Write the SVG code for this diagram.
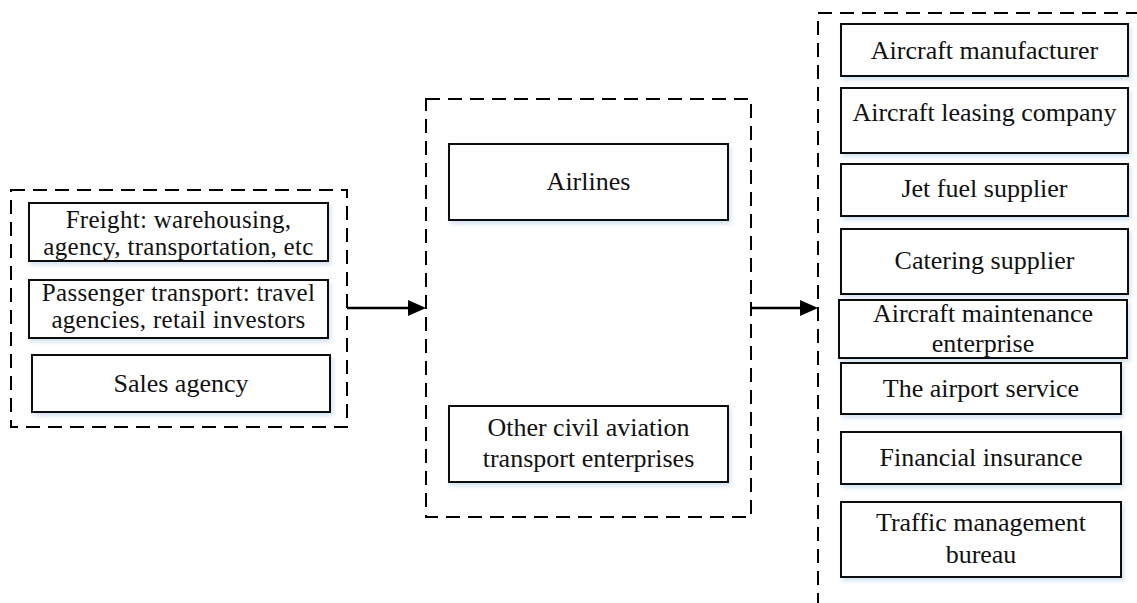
<svg xmlns="http://www.w3.org/2000/svg" width="1137" height="603" viewBox="0 0 1137 603">
<style>
.box{fill:#fff;stroke:#111;stroke-width:2;filter:url(#sh)}
.grp{fill:none;stroke:#000;stroke-width:2;stroke-dasharray:14 8}
.lbl{font-family:"Liberation Serif","Times New Roman",serif;font-size:26px;fill:#111;text-anchor:middle}
.tight{font-size:25px;letter-spacing:0.3px}
.conn{stroke:#000;stroke-width:2.5;fill:none}
</style>
<defs>
<filter id="sh" x="-10%" y="-20%" width="130%" height="160%">
<feDropShadow dx="2" dy="3" stdDeviation="2" flood-color="#9fbde0" flood-opacity="0.45"/>
</filter>
</defs>
<rect width="1137" height="603" fill="#fff"/>

<g id="group-left"><rect class="grp" x="11" y="190" width="336" height="237"/></g>
<g id="group-middle"><rect class="grp" x="426" y="99" width="325" height="418"/></g>
<g id="group-right"><path class="grp" d="M1140 13 H818 V610"/></g>

<g id="connectors">
<line class="conn" x1="347" y1="308" x2="408" y2="308"/>
<path d="M408,300 L426,308 L408,316 z" fill="#000"/>
<line class="conn" x1="751" y1="308" x2="800" y2="308"/>
<path d="M800,300 L818,308 L800,316 z" fill="#000"/>
</g>

<g id="freight"><rect class="box" x="29" y="203" width="299" height="58"/>
<text class="lbl tight" x="178.5" y="228">Freight: warehousing,</text>
<text class="lbl tight" x="178.5" y="255">agency, transportation, etc</text></g>

<g id="passenger"><rect class="box" x="29" y="280" width="299" height="58"/>
<text class="lbl tight" x="178.5" y="301">Passenger transport: travel</text>
<text class="lbl tight" x="178.5" y="328">agencies, retail investors</text></g>

<g id="sales"><rect class="box" x="32" y="355" width="298" height="57"/>
<text class="lbl" x="181" y="392">Sales agency</text></g>

<g id="airlines"><rect class="box" x="449" y="144" width="279" height="76"/>
<text class="lbl" x="588.5" y="190">Airlines</text></g>

<g id="other-civil"><rect class="box" x="449" y="406" width="279" height="76"/>
<text class="lbl" x="588.5" y="436">Other civil aviation</text>
<text class="lbl" x="588.5" y="467">transport enterprises</text></g>

<g id="manufacturer"><rect class="box" x="841" y="24" width="287" height="52"/>
<text class="lbl" x="984.5" y="59">Aircraft manufacturer</text></g>

<g id="leasing"><rect class="box" x="841" y="88" width="287" height="65"/>
<text class="lbl" x="984.5" y="121">Aircraft leasing company</text></g>

<g id="jet-fuel"><rect class="box" x="841" y="164" width="287" height="52"/>
<text class="lbl" x="984.5" y="197">Jet fuel supplier</text></g>

<g id="catering"><rect class="box" x="841" y="229" width="287" height="65"/>
<text class="lbl" x="984.5" y="269">Catering supplier</text></g>

<g id="maintenance"><rect class="box" x="839" y="300" width="288" height="58"/>
<text class="lbl" x="983" y="322">Aircraft maintenance</text>
<text class="lbl" x="983" y="352">enterprise</text></g>

<g id="airport"><rect class="box" x="841" y="363" width="280" height="51"/>
<text class="lbl" x="981" y="397">The airport service</text></g>

<g id="insurance"><rect class="box" x="841" y="432" width="280" height="52"/>
<text class="lbl" x="981" y="466">Financial insurance</text></g>

<g id="traffic"><rect class="box" x="841" y="502" width="280" height="75"/>
<text class="lbl" x="981" y="531">Traffic management</text>
<text class="lbl" x="981" y="563">bureau</text></g>
</svg>
